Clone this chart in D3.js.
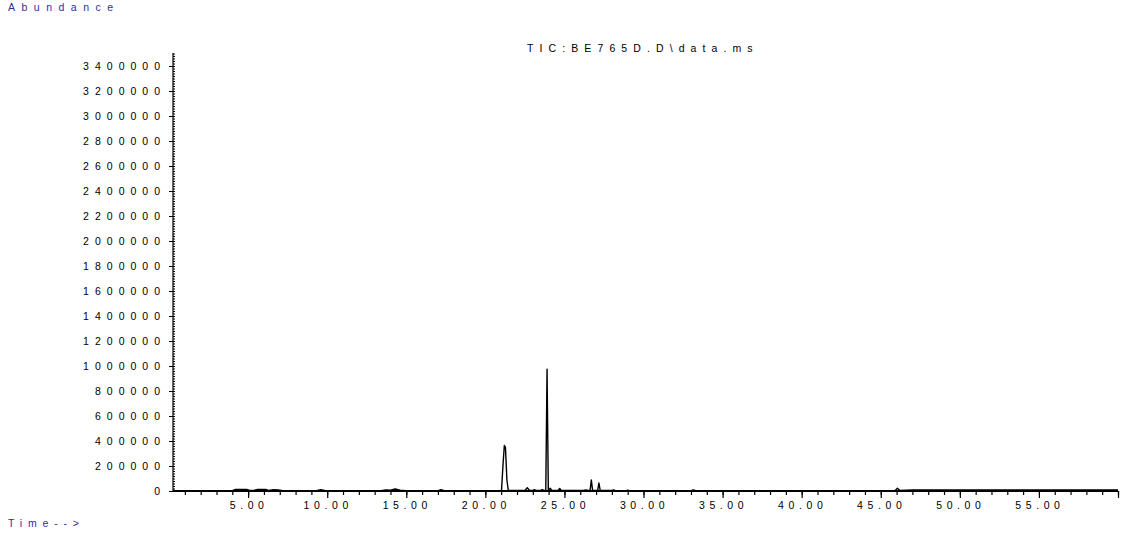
<!DOCTYPE html>
<html>
<head>
<meta charset="utf-8">
<script src="https://cdn.jsdelivr.net/npm/d3@7"></script>
<style>
  html, body { margin: 0; padding: 0; background: #fff; }
  svg { display: block; }
  text { font-family: "Liberation Sans", Arial, sans-serif; }
</style>
</head>
<body>
<svg id="chart" width="1124" height="536"></svg>
<script>
// ---- data ----
const titleText = "TIC:BE765D.D\\data.ms";
const yLabelText = "Abundance";
const xLabelText = "Time-->";
const yTickValues = [0, 200000, 400000, 600000, 800000, 1000000, 1200000, 1400000, 1600000,
  1800000, 2000000, 2200000, 2400000, 2600000, 2800000, 3000000, 3200000, 3400000];
const xTickValues = [5, 10, 15, 20, 25, 30, 35, 40, 45, 50, 55];
const xTickLabels = ["5.00", "10.00", "15.00", "20.00", "25.00", "30.00", "35.00", "40.00", "45.00", "50.00", "55.00"];
// retention time (min) and abundance of the TIC trace
const times = [0.3, 4.0, 4.2, 4.9, 5.1, 5.4, 5.6, 6.1, 6.3, 6.6, 6.9, 7.2, 9.3, 9.6, 9.9,
  13.4, 13.7, 14.0, 14.3, 14.6, 15.0, 17.0, 17.2, 17.4,
  21.02, 21.12, 21.2, 21.27, 21.36, 21.45,
  22.5, 22.65, 22.8, 23.0, 23.1, 23.2, 23.5, 23.6, 23.7,
  23.82, 23.9, 23.98, 24.1, 24.2, 24.6, 24.7, 24.8,
  26.2, 26.35, 26.5, 26.62, 26.7, 26.78, 27.1, 27.18, 27.26,
  28.0, 28.1, 28.2, 28.9, 29.0, 29.1, 33.0, 33.15, 33.3,
  45.9, 46.05, 46.2, 47.0, 60.0];
const abundance = [3000, 3000, 12000, 12000, 4000, 6000, 12000, 12000, 5000, 10000, 8000, 3000, 3000, 10000, 3000,
  3000, 9000, 6000, 16000, 6000, 3000, 3000, 10000, 3000,
  3000, 220000, 365000, 350000, 90000, 4000,
  4000, 26000, 4000, 4000, 10000, 4000, 4000, 10000, 4000,
  5000, 975000, 5000, 22000, 4000, 4000, 20000, 4000,
  4000, 9000, 4000, 5000, 88000, 5000, 5000, 64000, 5000,
  4000, 8000, 4000, 3000, 7000, 3000, 3000, 9000, 3000,
  3000, 22000, 5000, 8000, 8000];

// ---- layout ----
const svg = d3.select("#chart");
const x = d3.scaleLinear().domain([0.25, 60]).range([173, 1118]);
const y = d3.scaleLinear().domain([0, 3500000]).range([491, 53.5]);
const blue = "#2d2da0";
const fs = 10.5;
const ls = 6.0;

// y axis
const yMinor = d3.range(0, 3500001, 20000);
svg.append("g").attr("transform", "translate(173,0)")
  .call(d3.axisRight(y).tickValues(yMinor).tickSize(2).tickFormat(""))
  .call(g => g.select(".domain").remove())
  .call(g => g.selectAll("line").attr("stroke", "#000"));
svg.append("g").attr("transform", "translate(173,0)")
  .call(d3.axisLeft(y).tickValues(yTickValues).tickSize(4).tickPadding(9).tickFormat(d3.format("d")))
  .call(g => g.select(".domain").remove())
  .call(g => g.selectAll("line").attr("stroke", "#000"))
  .call(g => g.selectAll("text").attr("fill", "#000").attr("font-size", fs)
    .attr("letter-spacing", ls).attr("dx", ls).attr("dy", "0.36em"));
svg.append("line").attr("x1", 173).attr("x2", 173).attr("y1", 53).attr("y2", 491)
  .attr("stroke", "#000").attr("stroke-width", 1.2);

// x axis
const xMinor = d3.range(1, 61, 1);
svg.append("g").attr("transform", "translate(0,491)")
  .call(d3.axisBottom(x).tickValues(xMinor).tickSize(4).tickFormat(""))
  .call(g => g.select(".domain").remove())
  .call(g => g.selectAll("line").attr("stroke", "#000").attr("stroke-width", 1.2));
svg.append("g").attr("transform", "translate(0,491)")
  .call(d3.axisBottom(x).tickValues(xTickValues.concat([60])).tickSize(7).tickPadding(4)
    .tickFormat(d => { const i = xTickValues.indexOf(d); return i >= 0 ? xTickLabels[i] : ""; }))
  .call(g => g.select(".domain").remove())
  .call(g => g.selectAll("line").attr("stroke", "#000").attr("stroke-width", 1.2))
  .call(g => g.selectAll("text").attr("fill", "#000").attr("font-size", fs)
    .attr("letter-spacing", 4.6).attr("dx", 0.5));
svg.append("line").attr("x1", 173).attr("x2", 1118).attr("y1", 491).attr("y2", 491)
  .attr("stroke", "#000").attr("stroke-width", 2);

// trace
const pts = times.map((t, i) => [t, abundance[i]]);
svg.append("path").datum(pts)
  .attr("fill", "none").attr("stroke", "#000").attr("stroke-width", 1.4)
  .attr("stroke-linejoin", "round")
  .attr("d", d3.line().x(d => x(d[0])).y(d => y(d[1])));

// texts
svg.append("text").attr("x", 8).attr("y", 11).attr("fill", blue).attr("font-size", fs)
  .attr("letter-spacing", 6.5).text(yLabelText);
svg.append("text").attr("x", 8).attr("y", 527).attr("fill", blue).attr("font-size", fs)
  .attr("letter-spacing", 5.8).text(xLabelText);
svg.append("text").attr("x", 527).attr("y", 52).attr("fill", "#000").attr("font-size", fs)
  .attr("letter-spacing", 6.1).text(titleText);
</script>
</body>
</html>
